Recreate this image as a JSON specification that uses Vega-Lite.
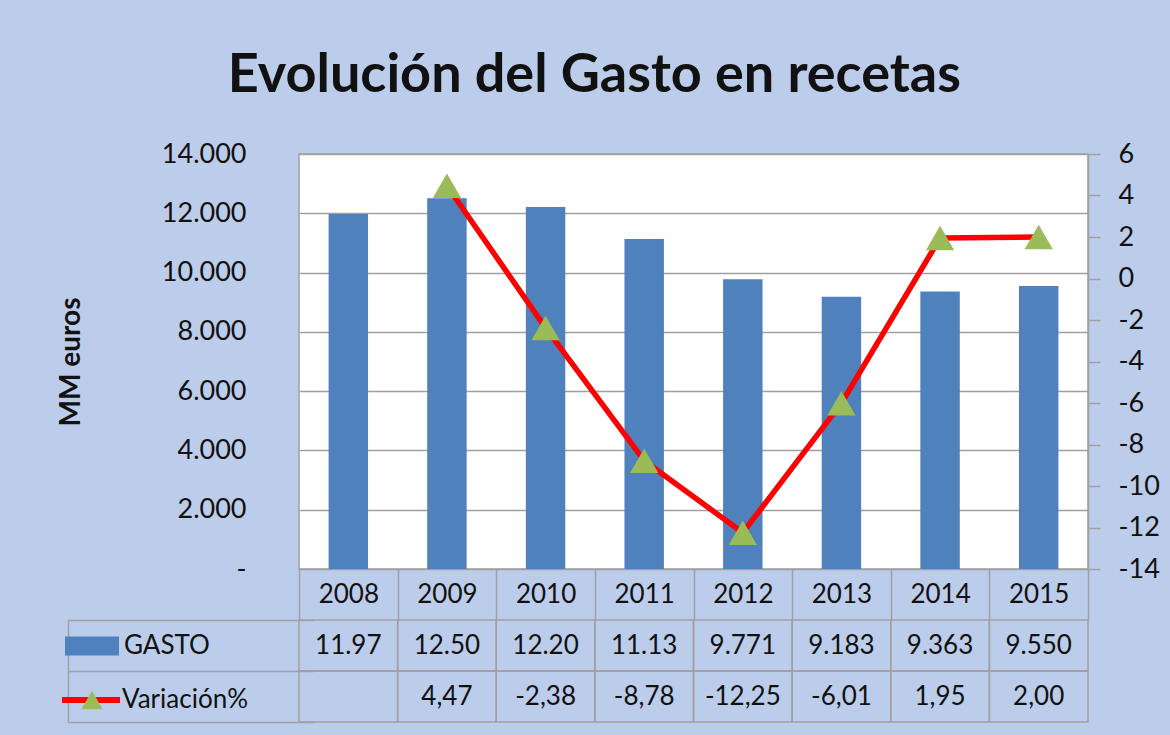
{
  "$schema": "https://vega.github.io/schema/vega-lite/v6.json",
  "background": "#bccdeb",
  "padding": {"left": 56, "top": 49, "right": 15, "bottom": 20},
  "title": {"text": "Evolución del Gasto en recetas", "font": "Lato", "fontSize": 54, "fontWeight": "bold", "color": "#111111", "anchor": "middle", "offset": 36, "dx": -14},
  "data": {"values": [
    {"year": "2008", "gasto": 11975, "gastoTxt": "11.97", "variacion": null, "varTxt": ""},
    {"year": "2009", "gasto": 12505, "gastoTxt": "12.50", "variacion": 4.47, "varTxt": "4,47"},
    {"year": "2010", "gasto": 12210, "gastoTxt": "12.20", "variacion": -2.38, "varTxt": "-2,38"},
    {"year": "2011", "gasto": 11135, "gastoTxt": "11.13", "variacion": -8.78, "varTxt": "-8,78"},
    {"year": "2012", "gasto": 9771, "gastoTxt": "9.771", "variacion": -12.25, "varTxt": "-12,25"},
    {"year": "2013", "gasto": 9183, "gastoTxt": "9.183", "variacion": -6.01, "varTxt": "-6,01"},
    {"year": "2014", "gasto": 9363, "gastoTxt": "9.363", "variacion": 1.95, "varTxt": "1,95"},
    {"year": "2015", "gasto": 9550, "gastoTxt": "9.550", "variacion": 2.0, "varTxt": "2,00"}
  ]},
  "bounds": "flush",
  "spacing": 51,
  "vconcat": [
    {
      "width": 789,
      "height": 415,
      "view": {"fill": "#ffffff", "stroke": "#a0a0a0", "strokeWidth": 1.5},
      "encoding": {
        "x": {"field": "year", "type": "nominal", "sort": null,
          "scale": {"paddingInner": 0, "paddingOuter": 0},
          "axis": {"title": null, "labelAngle": 0, "labelFontSize": 26, "labelColor": "#111111", "tickBand": "extent", "tickSize": 51, "tickColor": "#a0a0a0", "tickWidth": 1.5, "domain": false, "labelBaseline": "middle", "labelPadding": -25.5}}
      },
      "layer": [
        {
          "mark": {"type": "bar", "width": {"band": 0.4}},
          "encoding": {
            "y": {"field": "gasto", "type": "quantitative", "scale": {"domain": [0, 14000], "nice": false},
              "axis": {"values": [0, 2000, 4000, 6000, 8000, 10000, 12000, 14000], "title": "MM euros", "titleFontSize": 28, "titleFontWeight": "bold", "titleColor": "#111111", "titlePadding": 76,
                "grid": true, "gridColor": "#a0a0a0", "gridWidth": 1.5, "ticks": false, "domain": false, "labelPadding": 53, "labelFontSize": 27, "labelColor": "#111111",
                "labelExpr": "datum.value == 0 ? '-\u2002' : replace(format(datum.value, ','), ',', '.')"}},
            "color": {"datum": "GASTO", "scale": {"range": ["#4f81bd"]},
              "legend": {"orient": "none", "legendX": -234, "legendY": 465, "title": null, "symbolType": "M-1,-0.35L1,-0.35L1,0.35L-1,0.35Z", "symbolSize": 2916, "symbolStrokeWidth": 0, "labelFontSize": 26, "labelColor": "#111111", "labelOffset": 5, "padding": 0}}
          }
        },
        {
          "encoding": {
            "y": {"field": "variacion", "type": "quantitative", "scale": {"domain": [-14, 6], "nice": false},
              "axis": {"orient": "right", "values": [-14, -12, -10, -8, -6, -4, -2, 0, 2, 4, 6], "title": null, "grid": false, "domain": true, "domainColor": "#a0a0a0", "domainWidth": 1.5, "ticks": true, "tickSize": 12, "tickColor": "#a0a0a0", "tickWidth": 1.5, "labelFontSize": 27, "labelPadding": 18, "labelColor": "#111111", "labelExpr": "'' + datum.value"}}
          },
          "layer": [
            {
              "mark": {"type": "line", "strokeWidth": 5.5, "strokeCap": "round", "strokeJoin": "round"},
              "encoding": {
                "stroke": {"datum": "Variación%", "scale": {"range": ["#ff0000"]},
                  "legend": {"orient": "none", "legendX": -240, "legendY": 514, "title": null, "symbolType": "stroke", "symbolSize": 3364, "symbolStrokeWidth": 6, "labelFontSize": 26, "labelColor": "#111111", "labelOffset": -1, "padding": 0}}
              }
            },
            {
              "mark": {"type": "point", "filled": true, "color": "#9bbb59", "size": 800, "opacity": 1},
              "encoding": {
                "shape": {"datum": "tri", "scale": {"range": ["triangle-up"]},
                  "legend": {"orient": "none", "legendX": -218, "legendY": 535, "title": null, "symbolType": "triangle-up", "symbolSize": 450, "symbolFillColor": "#9bbb59", "symbolStrokeWidth": 0, "symbolOpacity": 1, "labelExpr": "''", "padding": 0, "zindex": 5}}
              }
            }
          ]
        }
      ],
      "resolve": {"scale": {"y": "independent"}}
    },
    {
      "width": 789,
      "height": 102,
      "transform": [{"fold": ["gastoTxt", "varTxt"], "as": ["row", "txt"]}],
      "encoding": {
        "x": {"field": "year", "type": "nominal", "sort": null, "scale": {"paddingInner": 0, "paddingOuter": 0}, "axis": null},
        "y": {"field": "row", "type": "nominal", "scale": {"domain": ["gastoTxt", "varTxt"], "paddingInner": 0, "paddingOuter": 0},
          "axis": {"title": null, "labels": false, "domain": true, "domainColor": "#a0a0a0", "domainWidth": 1.5, "ticks": true, "tickBand": "extent", "tickSize": -245, "tickColor": "#a0a0a0", "tickWidth": 1.5, "offset": 231, "grid": false}}
      },
      "layer": [
        {"mark": {"type": "rect", "fillOpacity": 0, "stroke": "#a0a0a0", "strokeWidth": 1.5}},
        {"mark": {"type": "text", "fontSize": 26, "color": "#111111"}, "encoding": {"text": {"field": "txt"}}}
      ]
    }
  ],
  "config": {
    "font": "Lato",
    "view": {"stroke": null},
    "axis": {"labelFont": "Lato", "titleFont": "Lato"},
    "legend": {"labelFont": "Lato"}
  }
}
